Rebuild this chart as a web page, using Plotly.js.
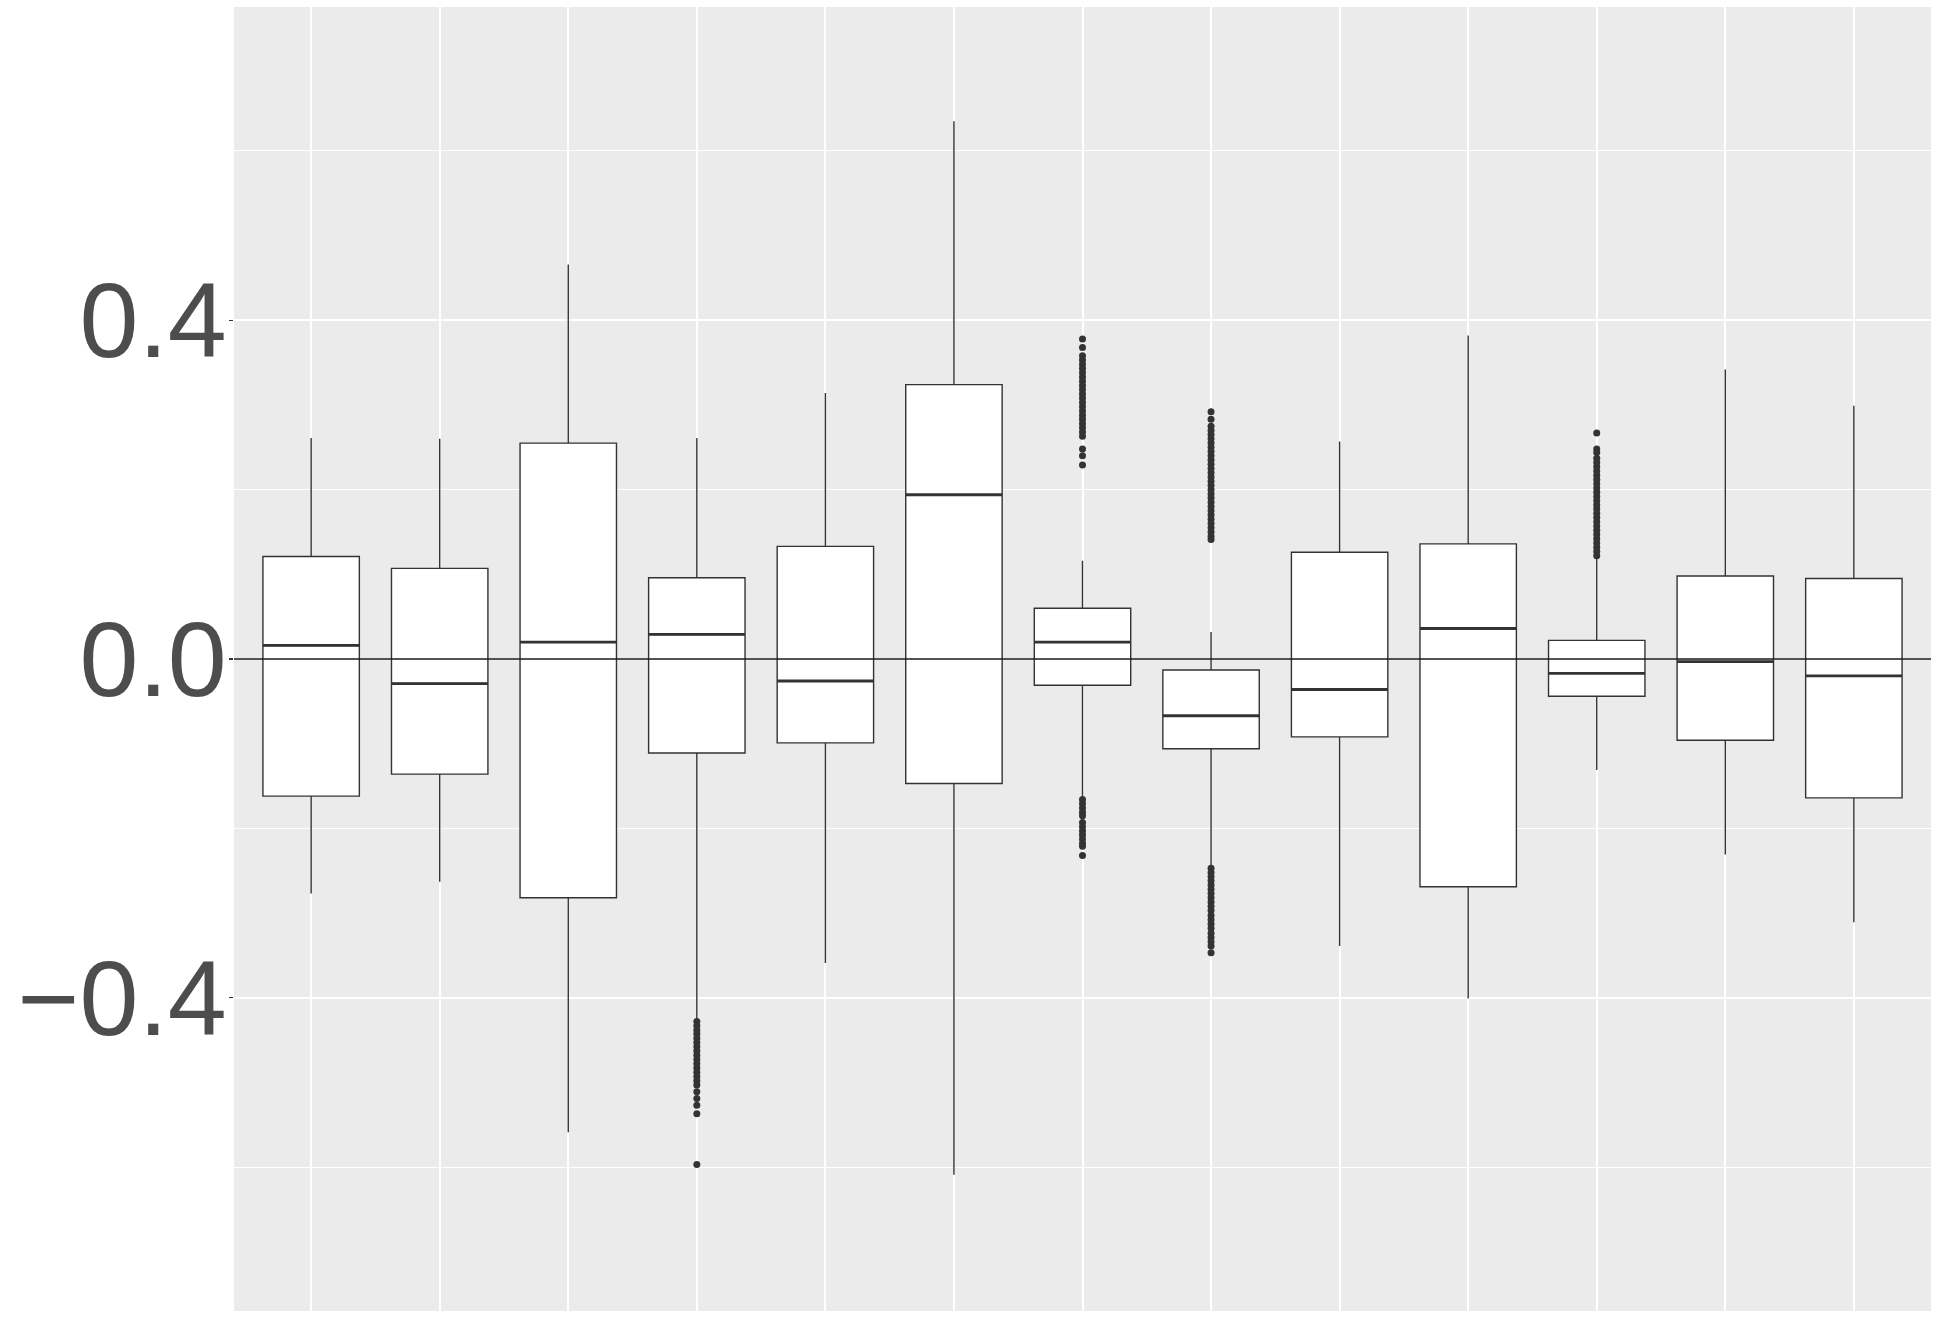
<!DOCTYPE html>
<html>
<head>
<meta charset="utf-8">
<script src="https://cdn.plot.ly/plotly-3.0.1.min.js"></script>
<style>
  html, body { margin: 0; padding: 0; background: #ffffff; }
  #chart { width: 1937px; height: 1321px; }
</style>
</head>
<body>
<div id="chart"></div>
<script>
// 13 groups, no x labels in the original
var groups = [1, 2, 3, 4, 5, 6, 7, 8, 9, 10, 11, 12, 13];

// box statistics
var upper_whisker = [0.261, 0.260, 0.466, 0.261, 0.314, 0.635, 0.116, 0.032, 0.257, 0.382, 0.119, 0.342, 0.299];
var q3_vals       = [0.121, 0.107, 0.255, 0.096, 0.133, 0.324, 0.060, -0.013, 0.126, 0.136, 0.022, 0.098, 0.095];
var median_vals   = [0.016, -0.029, 0.020, 0.029, -0.026, 0.194, 0.020, -0.067, -0.036, 0.036, -0.017, -0.003, -0.020];
var q1_vals       = [-0.162, -0.136, -0.282, -0.111, -0.099, -0.147, -0.031, -0.106, -0.092, -0.269, -0.044, -0.096, -0.164];
var lower_whisker = [-0.277, -0.263, -0.559, -0.425, -0.359, -0.609, -0.165, -0.244, -0.339, -0.401, -0.131, -0.231, -0.311];

// outliers (only groups 4, 7, 8 and 11 have them)
var outliers_4 = [-0.428, -0.433, -0.438, -0.443, -0.448, -0.453, -0.458, -0.463, -0.468, -0.473,
                  -0.478, -0.483, -0.488, -0.493, -0.498, -0.503, -0.511, -0.519, -0.527, -0.537, -0.597];
var outliers_7 = [0.378, 0.368, 0.358, 0.353, 0.348, 0.343, 0.338, 0.333, 0.328, 0.323, 0.318, 0.313,
                  0.308, 0.303, 0.298, 0.293, 0.288, 0.283, 0.278, 0.273, 0.268, 0.263, 0.248, 0.240, 0.229,
                  -0.166, -0.171, -0.176, -0.181, -0.185, -0.193, -0.198, -0.203, -0.208, -0.213, -0.218,
                  -0.221, -0.232];
var outliers_8 = [0.292, 0.283, 0.275, 0.270, 0.265, 0.260, 0.255, 0.250, 0.245, 0.240, 0.235, 0.230,
                  0.225, 0.220, 0.215, 0.210, 0.205, 0.200, 0.195, 0.190, 0.185, 0.180, 0.175, 0.170,
                  0.165, 0.160, 0.155, 0.150, 0.145, 0.141,
                  -0.247, -0.252, -0.257, -0.262, -0.267, -0.272, -0.277, -0.282, -0.287, -0.292, -0.297,
                  -0.303, -0.308, -0.313, -0.318, -0.324, -0.329, -0.334, -0.339, -0.347];
var outliers_11 = [0.267, 0.248, 0.244, 0.237, 0.232, 0.227, 0.222, 0.217, 0.212, 0.207, 0.202, 0.197,
                   0.192, 0.187, 0.182, 0.177, 0.172, 0.167, 0.162, 0.157, 0.152, 0.147, 0.142, 0.137,
                   0.132, 0.127, 0.122];

var y_ticks = [-0.4, 0.0, 0.4];
var y_tick_labels = ["\u22120.4", "0.0", "0.4"];

var box_width = 0.75;
var ink = "#333333";

function make_plot() {
    var graph_div = document.getElementById("chart");

    var boxes = {
        type: "box",
        x: groups,
        q1: q1_vals,
        median: median_vals,
        q3: q3_vals,
        lowerfence: lower_whisker,
        upperfence: upper_whisker,
        width: box_width,
        whiskerwidth: 0,
        boxpoints: false,
        fillcolor: "#ffffff",
        line: {color: ink, width: 1.4},
        hoverinfo: "skip",
        showlegend: false
    };

    // thicker median bars like ggplot
    var mx = [], my = [];
    for (let i = 0; i < groups.length; i++) {
        mx.push(groups[i] - box_width / 2, groups[i] + box_width / 2, null);
        my.push(median_vals[i], median_vals[i], null);
    }
    var medians = {
        type: "scatter",
        mode: "lines",
        x: mx,
        y: my,
        line: {color: ink, width: 2.8},
        hoverinfo: "skip",
        showlegend: false
    };

    var ox = [], oy = [];
    var sets = [[4, outliers_4], [7, outliers_7], [8, outliers_8], [11, outliers_11]];
    sets.forEach(function(s) {
        s[1].forEach(function(v) {
            ox.push(s[0]);
            oy.push(v);
        });
    });
    var points = {
        type: "scatter",
        mode: "markers",
        x: ox,
        y: oy,
        marker: {color: ink, size: 7},
        hoverinfo: "skip",
        showlegend: false
    };

    var layout = {
        width: 1937,
        height: 1321,
        margin: {l: 234, r: 6, t: 7, b: 10, pad: 0},
        paper_bgcolor: "#ffffff",
        plot_bgcolor: "#EBEBEB",
        font: {family: "Liberation Sans, Arial, sans-serif", color: "#4D4D4D"},
        xaxis: {
            range: [0.4, 13.6],
            tickvals: groups,
            showticklabels: false,
            ticks: "",
            showgrid: true,
            gridcolor: "#ffffff",
            gridwidth: 2,
            zeroline: false,
            showline: false,
            fixedrange: true
        },
        yaxis: {
            range: [-0.770, 0.770],
            tickvals: y_ticks,
            ticktext: y_tick_labels,
            ticks: "outside",
            ticklen: 4,
            tickwidth: 1.2,
            tickcolor: ink,
            ticklabelstandoff: -19,
            tickfont: {size: 106, color: "#4D4D4D"},
            showgrid: true,
            gridcolor: "#ffffff",
            gridwidth: 2,
            minor: {
                tickvals: [-0.6, -0.2, 0.2, 0.6],
                showgrid: true,
                gridcolor: "#ffffff",
                gridwidth: 1,
                ticks: ""
            },
            zeroline: false,
            showline: false,
            fixedrange: true
        },
        shapes: [{
            type: "line",
            xref: "paper",
            yref: "y",
            x0: 0, x1: 1,
            y0: 0, y1: 0,
            layer: "above",
            line: {color: "#1a1a1a", width: 1.5}
        }]
    };

    Plotly.newPlot(graph_div, [boxes, medians, points], layout, {staticPlot: true});
}

make_plot();
</script>
</body>
</html>
